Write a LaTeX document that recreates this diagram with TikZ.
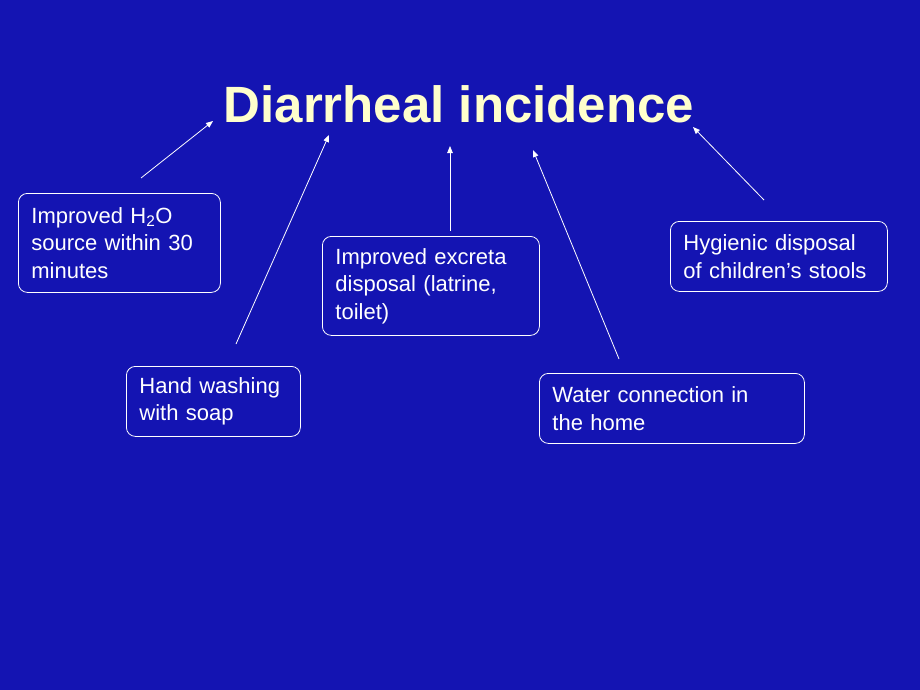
\documentclass[tikz,border=0pt]{standalone}
\usepackage{fontspec}
\setmainfont{Liberation Sans}
\usetikzlibrary{arrows.meta}
\usetikzlibrary{positioning}
\definecolor{slideblue}{RGB}{20,20,178}
\definecolor{titlecream}{RGB}{255,255,204}
\tikzset{
  factor/.style={draw=white, line width=0.8pt, rounded corners=9pt,
    text=white, anchor=north west, align=left, inner xsep=13pt,
    font=\fontsize{22}{27.5}\selectfont},
  link/.style={white, line width=0.8pt, -{Triangle[length=7pt,width=5.5pt]}}
}
\begin{document}
\begin{tikzpicture}[x=1pt,y=-1pt]
    \fill[slideblue] (0,0) rectangle (920,690);

    \node[text=titlecream, font=\fontsize{51}{51}\selectfont\bfseries, anchor=base]
      (title) at (459,123) {Diarrheal incidence};

    \node[factor, text width=176pt, minimum height=99pt] (source) at (18,193)
      {Improved H\textsubscript{2}O\\source within 30\\minutes};
    \node[factor, text width=148pt, minimum height=70pt] (hands) at (126,366)
      {Hand washing\\with soap};
    \node[factor, text width=191pt, minimum height=99pt] (excreta) at (322,236)
      {Improved excreta\\disposal (latrine,\\toilet)};
    \node[factor, text width=239pt, minimum height=70pt] (water) at (539,373)
      {Water connection in\\the home};
    \node[factor, text width=191pt, minimum height=70pt] (stools) at (670,221)
      {Hygienic disposal\\of children’s stools};

    % loose arrow ends
    \coordinate (sourceTail) at (141,178);
    \coordinate (sourceHead) at (213,121);
    \coordinate (handsTail) at (236,344);
    \coordinate (handsHead) at (329,135);
    \coordinate (excretaTail) at (450,231);
    \coordinate (excretaHead) at (450,146);
    \coordinate (waterTail) at (619,359);
    \coordinate (waterHead) at (533,150);
    \coordinate (stoolsTail) at (764,200);
    \coordinate (stoolsHead) at (693,127);

    \draw[link] (sourceTail) -- (sourceHead);
    \draw[link] (handsTail) -- (handsHead);
    \draw[link] (excretaTail) -- (excretaHead);
    \draw[link] (waterTail) -- (waterHead);
    \draw[link] (stoolsTail) -- (stoolsHead);
\end{tikzpicture}
\end{document}
